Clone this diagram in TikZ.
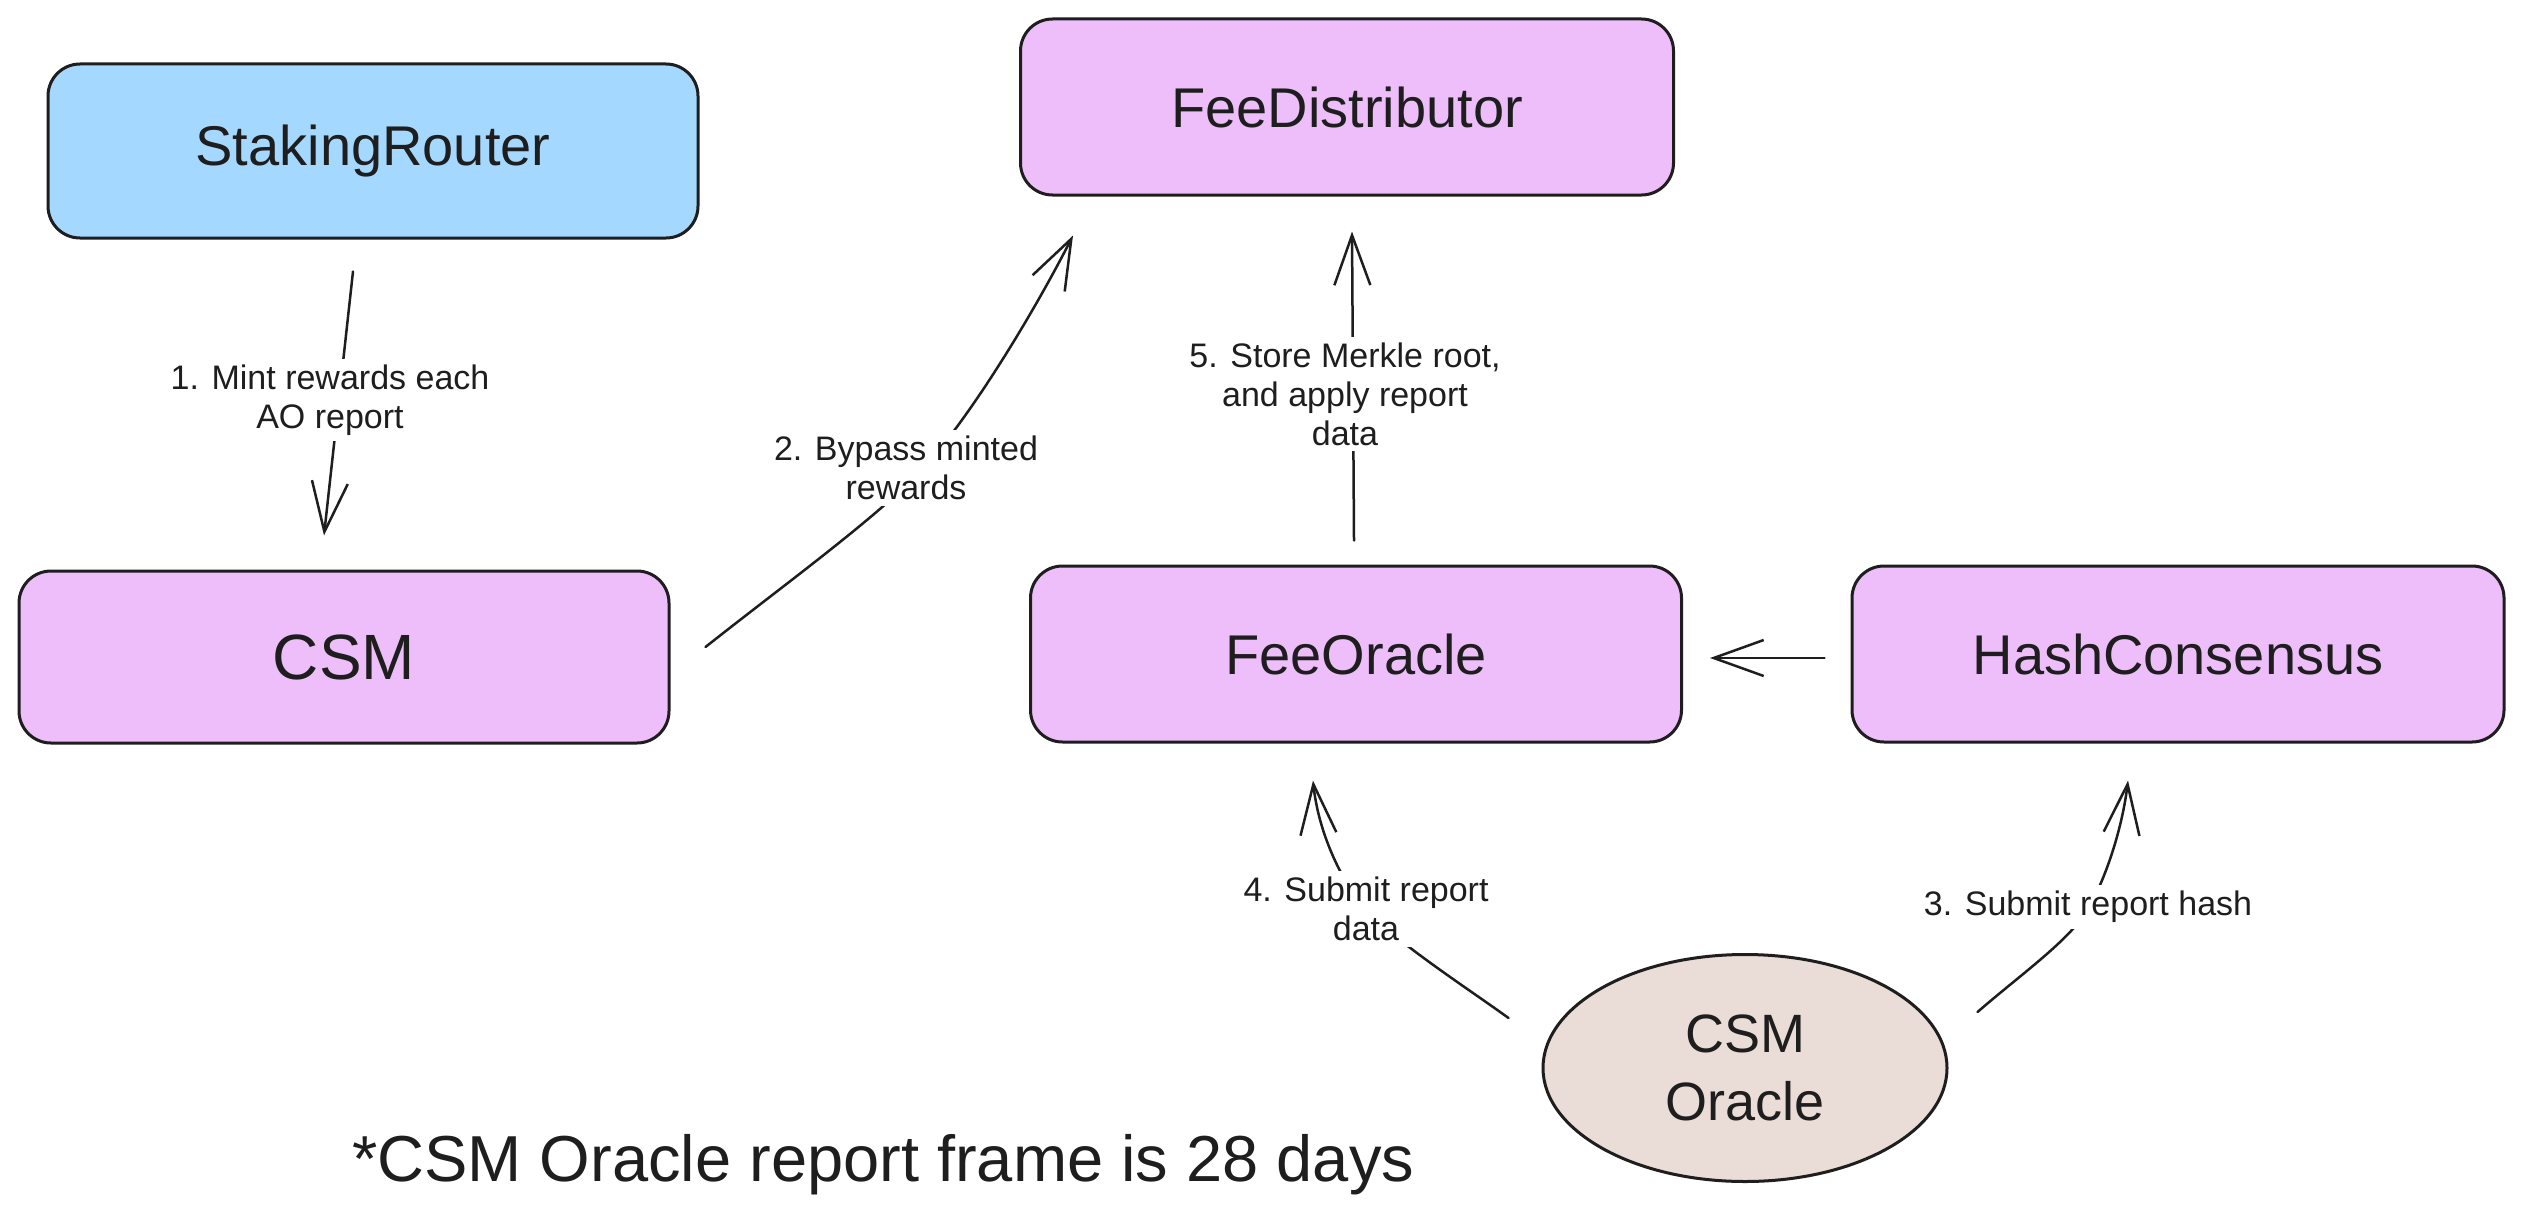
\documentclass[tikz,border=0pt]{standalone}
\usepackage{fontspec}
\setmainfont{Liberation Sans}
\usetikzlibrary{arrows.meta,shapes.geometric}
\definecolor{ink}{HTML}{1E1E1E}
\definecolor{violetfill}{HTML}{EEBEFA}
\definecolor{bluefill}{HTML}{A5D8FF}
\definecolor{tanfill}{HTML}{EADDD7}
\begin{document}
\begin{tikzpicture}[x=1pt,y=-1pt,
  box/.style={draw=ink, line width=3pt, rounded corners=32pt, minimum width=650pt, minimum height=174pt, inner sep=0pt, font=\fontsize{56}{60}\selectfont, text=ink},
  arr/.style={draw=ink, line width=2.5pt, -{Straight Barb[length=50pt,width=36pt]}, line cap=round},
  lbl/.style={fill=white, inner sep=6pt, align=center, text=ink, font=\fontsize{34}{39}\selectfont},
]
\fill[white] (0,0) rectangle (2523,1223);
\useasboundingbox (0,0) rectangle (2523,1223);

\node[box, fill=bluefill] (sr) at (373,151) {StakingRouter};
\node[box, fill=violetfill, minimum width=653pt, minimum height=176pt] (fd) at (1347,107) {FeeDistributor};
\node[box, fill=violetfill, minimum height=172pt, font=\fontsize{64}{70}\selectfont] (csm) at (344,657) {CSM};
\node[box, fill=violetfill, minimum width=651pt, minimum height=176pt] (fo) at (1356,654) {FeeOracle};
\node[box, fill=violetfill, minimum width=652pt, minimum height=176pt] (hc) at (2178,654) {HashConsensus};
\node[ellipse, draw=ink, line width=3pt, fill=tanfill, minimum width=404pt, minimum height=227pt, inner sep=0pt, align=center, text=ink, font=\fontsize{54}{68}\selectfont] (orc) at (1745,1068) {CSM\\Oracle};

\coordinate (m2) at (912,480);
\coordinate (m3) at (2088,909);
\coordinate (m4) at (1366,910);

\draw[arr] ([shift={(-20,32)}]sr.south) -- ([shift={(-20,-34)}]csm.north);
\draw[arr] ([shift={(35,-10)}]csm.east) .. controls (780,588) and (860,530) .. (m2) .. controls (960,434) and (1030,320) .. ([shift={(-274,39)}]fd.south);
\draw[arr] ([shift={(-2,-24)}]fo.north) -- ([shift={(5,35)}]fd.south);
\draw[arr] ([shift={(-26,4)}]hc.west) -- ([shift={(27,4)}]fo.east);
\draw[arr] ([shift={(29,-56)}]orc.east) .. controls (2020,975) and (2070,940) .. (m3) .. controls (2105,880) and (2122,830) .. ([shift={(-50,37)}]hc.south);
\draw[arr] ([shift={(-33,-50)}]orc.west) .. controls (1470,990) and (1400,945) .. (m4) .. controls (1340,880) and (1318,830) .. ([shift={(-43,37)}]fo.south);

\node[lbl] (l1) at (330,400) {1. Mint rewards each\\AO report};
\node[lbl] (l2) at (906,468) {2. Bypass minted\\rewards};
\node[lbl] (l3) at (2088,907) {3. Submit report hash};
\node[lbl] (l4) at (1366,909) {4. Submit report\\data};
\node[lbl] (l5) at (1345,394) {5. Store Merkle root,\\and apply report\\data};

\node[anchor=west, text=ink, inner sep=0pt, font=\fontsize{65}{72}\selectfont] (note) at (352,1165) {*CSM Oracle report frame is 28 days};
\end{tikzpicture}
\end{document}
